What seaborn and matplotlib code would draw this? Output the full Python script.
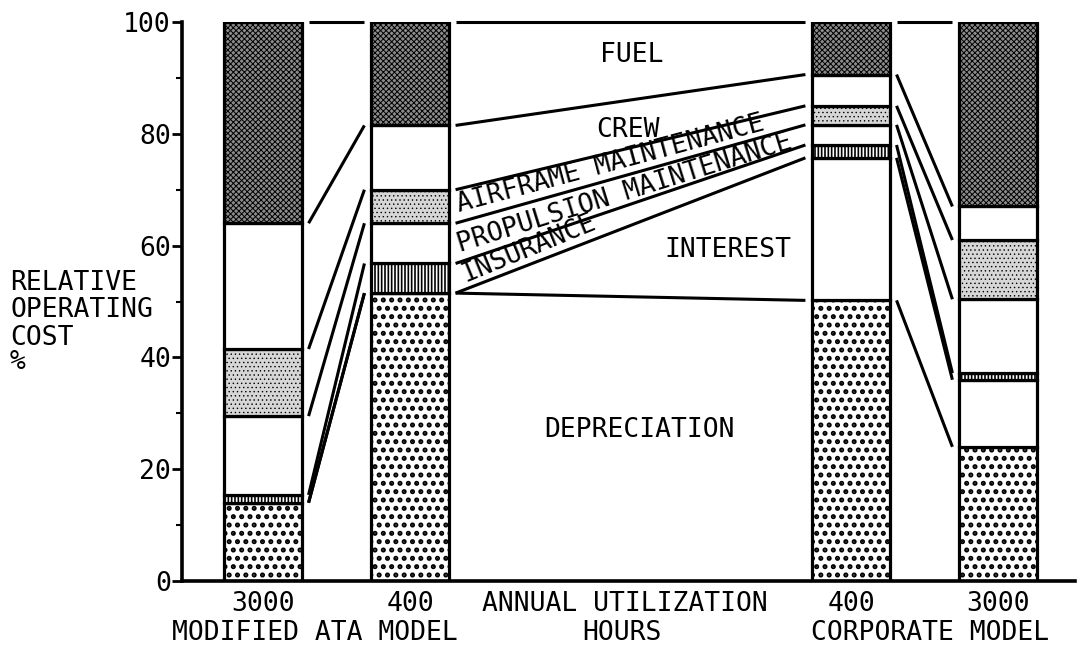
import numpy as np
import pandas as pd
import matplotlib
matplotlib.use("Agg")
import matplotlib.pyplot as plt
from matplotlib.ticker import MultipleLocator
import seaborn as sns

# ---- data: relative operating cost (% of total), stacked bottom to top ----
cases = ["3000", "400", "400", "3000"]
model_names = ["MODIFIED ATA MODEL", "CORPORATE MODEL"]
components = ["DEPRECIATION", "INTEREST", "INSURANCE",
              "PROPULSION MAINTENANCE", "AIRFRAME MAINTENANCE", "CREW", "FUEL"]
depreciation = [14.0, 51.5, 50.2, 24.0]
interest = [0.0, 0.0, 25.5, 12.0]
insurance = [1.4, 5.3, 2.3, 1.2]
propulsion = [14.1, 7.2, 3.6, 13.2]
airframe = [12.0, 6.0, 3.4, 10.6]
crew = [22.5, 11.5, 5.6, 6.0]
fuel = [36.0, 18.5, 9.4, 33.0]
yticks = [0, 20, 40, 60, 80, 100]
ylabel_lines = ["RELATIVE", "OPERATING", "COST", "%"]

values = np.array([depreciation, interest, insurance, propulsion,
                   airframe, crew, fuel])
tops = np.cumsum(values, axis=0)
bottoms = tops - values

# ---- layout ----
xpos = [1.0, 2.0, 5.0, 6.0]
bar_w = 0.53
gap = 0.045
styles = {
    "DEPRECIATION": dict(color="white", hatch="..", hlw=2.4),
    "INTEREST": dict(color="white", hatch=None, hlw=1.0),
    "INSURANCE": dict(color="white", hatch="|||||", hlw=1.2),
    "PROPULSION MAINTENANCE": dict(color="white", hatch=None, hlw=1.0),
    "AIRFRAME MAINTENANCE": dict(color="#d6d6d6", hatch="....", hlw=0.5),
    "CREW": dict(color="white", hatch=None, hlw=1.0),
    "FUEL": dict(color="#8c8c8c", hatch="xxxxxx", hlw=0.7),
}

sns.set_theme(style="ticks")
plt.rcParams["font.family"] = ["DejaVu Sans Mono"]
plt.rcParams["axes.linewidth"] = 2.6
plt.rcParams["axes.edgecolor"] = "black"
plt.rcParams["text.color"] = "black"

fig = plt.figure(figsize=(10.83, 6.48), dpi=100)
ax = fig.add_axes([182 / 1083, 1 - 581 / 648, (1075 - 182) / 1083, (581 - 22) / 648])

rows = []
for k, comp in enumerate(components):
    for i, x in enumerate(xpos):
        rows.append(dict(component=comp, x=x, value=values[k, i], bottom=bottoms[k, i]))
df = pd.DataFrame(rows)

for comp in components:
    st = styles[comp]
    sub = df[df["component"] == comp].sort_values("x")
    with plt.rc_context({"hatch.linewidth": st["hlw"], "hatch.color": "black"}):
        sns.barplot(data=sub, x="x", y="value", native_scale=True,
                    bottom=sub["bottom"].to_numpy(), width=bar_w,
                    color=st["color"], saturation=1, edgecolor="black",
                    linewidth=2.3, hatch=st["hatch"], errorbar=None, ax=ax)

# connecting lines between neighbouring bars at each band boundary
for i, j in [(0, 1), (1, 2), (2, 3)]:
    x0 = xpos[i] + bar_w / 2 + gap
    x1 = xpos[j] - bar_w / 2 - gap
    for k in range(len(components)):
        ax.plot([x0, x1], [tops[k, i], tops[k, j]], color="black",
                lw=2.2, solid_capstyle="butt", clip_on=False, zorder=3)

ax.set_xlim(0.449, 6.524)
ax.set_ylim(0, 100)
ax.set_xticks([])
ax.set_xlabel("")
ax.set_ylabel("")
ax.set_yticks(yticks)
ax.yaxis.set_minor_locator(MultipleLocator(10))
ax.tick_params(axis="y", which="major", direction="out", length=7, width=2,
               labelsize=19, pad=1, colors="black")
ax.tick_params(axis="y", which="minor", direction="out", length=4, width=1.5,
               colors="black")
sns.despine(ax=ax)

# band labels
lab_kw = dict(fontsize=19, color="black")
ax.text(3.51, 94.1, "FUEL", ha="center", va="center", **lab_kw)
ax.text(3.48, 80.6, "CREW", ha="center", va="center", **lab_kw)
ax.text(4.16, 59.2, "INTEREST", ha="center", va="center", **lab_kw)
ax.text(3.56, 27.0, "DEPRECIATION", ha="center", va="center", **lab_kw)
ax.text(2.336, 66.0, "AIRFRAME MAINTENANCE", rotation=15, rotation_mode="anchor",
        ha="left", va="baseline", **lab_kw)
ax.text(2.34, 58.9, "PROPULSION MAINTENANCE", rotation=17.3, rotation_mode="anchor",
        ha="left", va="baseline", **lab_kw)
ax.text(2.374, 53.5, "INSURANCE", rotation=22.3, rotation_mode="anchor",
        ha="left", va="baseline", **lab_kw)

# x-axis labels
xt = ax.get_xaxis_transform()
row1 = (581 - 611) / 559
row2 = (581 - 640) / 559
for x, c in zip(xpos, cases):
    ax.text(x, row1, c, transform=xt, ha="center", va="baseline", **lab_kw)
ax.text(3.46, row1, "ANNUAL UTILIZATION", transform=xt, ha="center", va="baseline", **lab_kw)
ax.text(3.44, row2, "HOURS", transform=xt, ha="center", va="baseline", **lab_kw)
ax.text(1.354, row2, model_names[0], transform=xt, ha="center", va="baseline", **lab_kw)
ax.text(5.54, row2, model_names[1], transform=xt, ha="center", va="baseline", **lab_kw)

# y-axis title, one line per text
for line, ypx in zip(ylabel_lines, [283, 310, 338, 362]):
    fig.text(10 / 1083, 1 - ypx / 648, line, ha="left", va="center",
             fontsize=19, color="black")

fig.savefig("out.png", dpi=100)
